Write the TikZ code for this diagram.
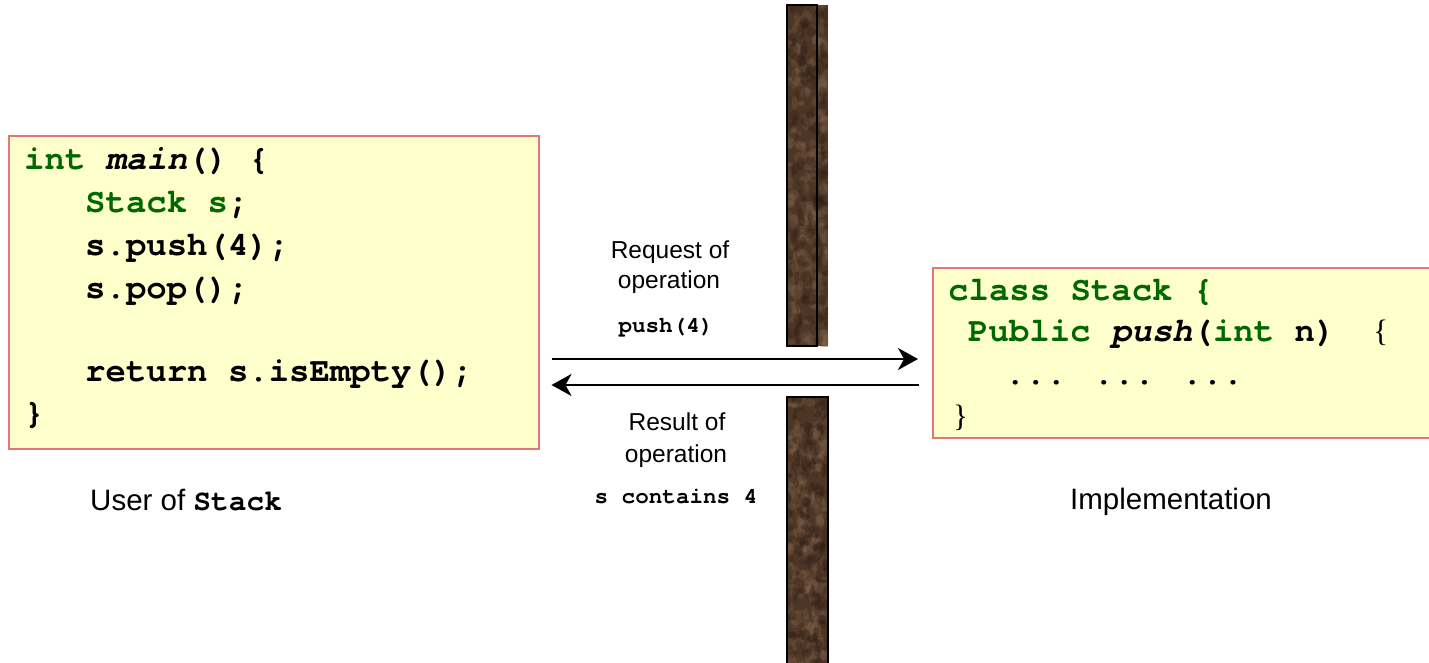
\documentclass[tikz,border=0pt]{standalone}
\usepackage{fontspec}
\setmainfont{Liberation Sans}
\newfontfamily\codefont{texgyrecursor}[Extension=.otf, UprightFont=*-regular, BoldFont=*-bold, ItalicFont=*-italic, BoldItalicFont=*-bolditalic]
\newfontfamily\bracefont{Liberation Serif}
\usetikzlibrary{arrows.meta}

\definecolor{codegreen}{RGB}{0,104,0}
\definecolor{boxfill}{RGB}{255,255,204}
\definecolor{boxline}{RGB}{228,118,118}
\definecolor{wallbase}{RGB}{78,54,38}
\definecolor{walllight}{RGB}{138,110,86}
\definecolor{walldark}{RGB}{44,28,18}

\newcommand\codesz{\codefont\bfseries\fontsize{34}{34}\selectfont}
\newcommand\smallcode{\codefont\bfseries\fontsize{22.6}{22.6}\selectfont}
\newcommand\labelsz{\fontsize{24.5}{24.5}\selectfont}
\newcommand\captionsz{\fontsize{29.5}{29.5}\selectfont}
\newcommand\bracesz{\bracefont\mdseries\upshape\fontsize{31}{31}\selectfont}
\newcommand\kw[1]{{\color{codegreen}#1}}

% mottled stone texture inside a rectangle: #1,#2 corner, #3,#4 opposite corner
\newcommand\walltexture[4]{%
  \begin{scope}
    \clip (#1,#2) rectangle (#3,#4);
    \fill[wallbase] (#1,#2) rectangle (#3,#4);
    \foreach \k in {1,...,200}{
      \fill[walllight, opacity=0.22]
        ({#1+(#3-#1)*rnd},{#2+(#4-#2)*rnd}) ellipse ({2+4*rnd} and {2+6*rnd});
    }
    \foreach \k in {1,...,140}{
      \fill[walldark, opacity=0.3]
        ({#1+(#3-#1)*rnd},{#2+(#4-#2)*rnd}) ellipse ({2+3.5*rnd} and {2+6*rnd});
    }
  \end{scope}%
}

\tikzset{
  codebox/.style={draw=boxline, line width=1.5pt, fill=boxfill, rectangle, inner sep=0pt},
  codeline/.style={anchor=base west, inner sep=0pt, font=\codesz},
  centerlabel/.style={anchor=base, inner sep=0pt, font=\labelsz},
  centercode/.style={anchor=base, inner sep=0pt, font=\smallcode},
  msgarrow/.style={line width=2.2pt, -{Stealth[length=20pt, width=22pt, inset=6pt]}},
}

\begin{document}
\begin{tikzpicture}[x=1pt, y=-1pt]
  \useasboundingbox (0,0) rectangle (1429,662);
  \pgfmathsetseed{4217}

  % the wall between user and implementation
  \walltexture{787}{5}{828}{346}
  \draw[black, line width=1.3pt] (787,5) rectangle (817,346);
  \walltexture{787}{397}{828}{670}
  \draw[black, line width=1.6pt] (787,670) -- (787,397) -- (828,397) -- (828,670);

  % client code
  \node[codebox, minimum width=530pt, minimum height=313pt, anchor=north west] (user) at (8,135) {};
  \node[codeline] (u1) at (24,169) {\kw{int} \textit{main}() \{};
  \node[codeline] (u2) at (85,212) {\kw{Stack s};};
  \node[codeline] (u3) at (85,255) {s.push(4);};
  \node[codeline] (u4) at (85,298) {s.pop();};
  \node[codeline] (u5) at (85,381) {return s.isEmpty();};
  \node[codeline] (u6) at (24,423) {\}};

  % implementation code
  \node[codebox, minimum width=510pt, minimum height=170pt, anchor=north west] (impl) at (932,267) {};
  \node[codeline] (i1) at (948,300) {\kw{class Stack \{}};
  \node[codeline] (i2) at (968,341) {\kw{Public} \textit{push}(\kw{int} n)\hspace{38pt}{\bracesz\{}};
  \node[codeline] (i3) at (1005,384) {... ... ...};
  \node[codeline, font=\bracesz] (i4) at (953,426) {\}};

  % messages across the wall
  \coordinate (reqy) at (0,359);
  \coordinate (resy) at (0,385);
  \draw[msgarrow, shorten <=12pt, shorten >=14pt] (user.east |- reqy) -- (impl.west |- reqy);
  \draw[msgarrow, shorten <=13pt, shorten >=12pt] (impl.west |- resy) -- (user.east |- resy);

  \node[centerlabel] (req1) at (670,258) {Request of};
  \node[centerlabel] (req2) at (669,288) {operation};
  \node[centercode]  (req3) at (666,332) {push(4)};
  \node[centerlabel] (res1) at (677,430) {Result of};
  \node[centerlabel] (res2) at (676,462) {operation};
  \node[centercode]  (res3) at (676,503) {s contains 4};

  % captions
  \node[anchor=base west, inner sep=0pt, font=\captionsz] (usercap) at (90,510)
    {User of {\codefont\bfseries Stack}};
  \node[anchor=base, inner sep=0pt, font=\captionsz] (implcap) at (1171,509) {Implementation};
\end{tikzpicture}
\end{document}
